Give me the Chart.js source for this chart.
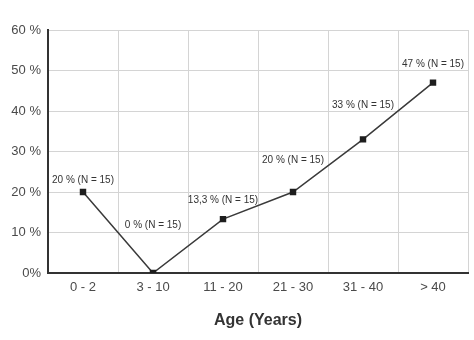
<!DOCTYPE html>
<html><head><meta charset="utf-8">
<script src="https://cdn.jsdelivr.net/npm/chart.js@4"></script>
<style>html,body{margin:0;padding:0;background:#fff}#wrap{width:474px;height:340px}</style>
</head><body><div id="wrap"><canvas id="c" width="474" height="340"></canvas></div>
<script>
const categories = ['0 - 2', '3 - 10', '11 - 20', '21 - 30', '31 - 40', '> 40'];
const percentValues = [20, 0, 13.3, 20, 33, 47];
const pointLabels = ['20 % (N = 15)', '0 % (N = 15)', '13,3 % (N = 15)', '20 % (N = 15)', '33 % (N = 15)', '47 % (N = 15)'];
const yTicks = [0, 10, 20, 30, 40, 50, 60];

// style: vertical pixel offset of each label above its point
const labelOffsets = [12, 48, 19, 32, 34, 18];

const labelPlugin = {
  id: 'pointLabels',
  afterDatasetsDraw(chart) {
    const ctx = chart.ctx;
    const meta = chart.getDatasetMeta(0);
    ctx.save();
    ctx.font = '10px "Liberation Sans", Arial, sans-serif';
    ctx.fillStyle = '#333';
    ctx.textAlign = 'center';
    ctx.textBaseline = 'middle';
    meta.data.forEach((pt, i) => {
      ctx.fillText(pointLabels[i], pt.x, pt.y - labelOffsets[i]);
    });
    ctx.restore();
  }
};

new Chart(document.getElementById('c'), {
  type: 'line',
  data: {
    labels: categories,
    datasets: [{
      data: percentValues,
      borderColor: '#3a3a3a',
      borderWidth: 1.5,
      pointStyle: 'rect',
      pointRadius: 3.5,
      pointBackgroundColor: '#1e1e1e',
      pointBorderColor: '#1e1e1e',
      tension: 0,
      fill: false
    }]
  },
  options: {
    responsive: false,
    animation: false,
    layout: { padding: { top: 30, right: 6, left: 0, bottom: 0 } },
    plugins: { legend: { display: false }, tooltip: { enabled: false } },
    scales: {
      x: {
        offset: true,
        grid: { offset: true, color: '#d4d4d4', lineWidth: 1, drawTicks: false },
        border: { color: '#333', width: 2 },
        ticks: { color: '#4a4a4a', font: { family: '"Liberation Sans", Arial, sans-serif', size: 13 }, padding: 7 },
        title: { display: true, text: 'Age (Years)', color: '#333', font: { family: '"Liberation Sans", Arial, sans-serif', size: 16, weight: 'bold' }, padding: { top: 10, bottom: 10 } },
        afterFit(scale) { scale.height = 67; }
      },
      y: {
        min: 0, max: 60,
        afterBuildTicks(scale) { scale.ticks = yTicks.map(v => ({ value: v })); },
        grid: { color: '#d4d4d4', lineWidth: 1, drawTicks: false },
        border: { color: '#333', width: 2 },
        ticks: {
          color: '#4a4a4a', padding: 7,
          font: { family: '"Liberation Sans", Arial, sans-serif', size: 13 },
          callback: v => v === 0 ? '0%' : v + ' %'
        },
        afterFit(scale) { scale.width = 48; }
      }
    }
  },
  plugins: [labelPlugin]
});
</script></body></html>
